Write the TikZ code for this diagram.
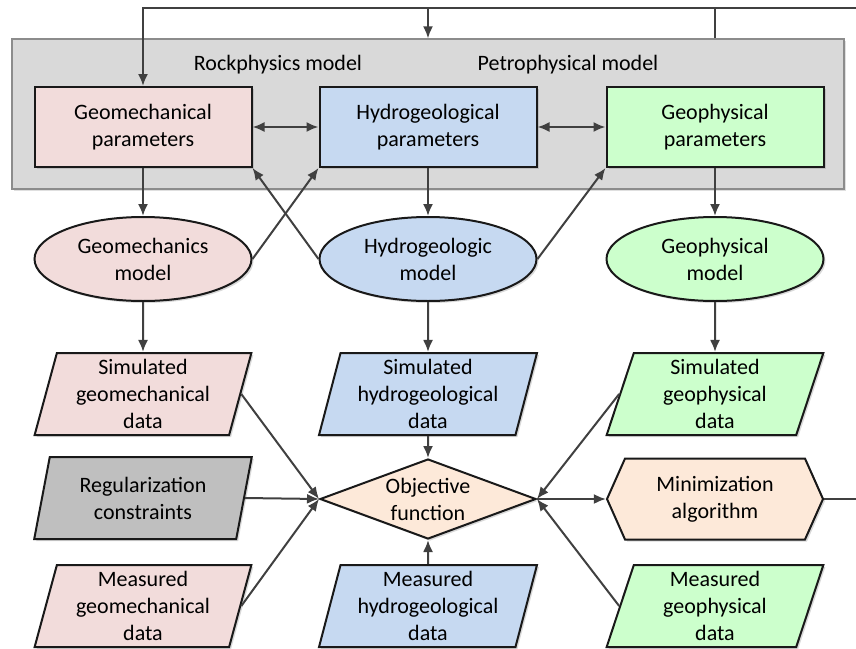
\documentclass[tikz,border=0pt]{standalone}
\usepackage{fontspec}
\setmainfont{Carlito}
\usepackage{xcolor}
\usetikzlibrary{shapes.geometric,shapes.symbols,arrows.meta,shadows,positioning}
\definecolor{mechfill}{HTML}{F2DCDB}
\definecolor{hydrofill}{HTML}{C6D9F1}
\definecolor{physfill}{HTML}{CCFFCC}
\definecolor{regfill}{HTML}{BFBFBF}
\definecolor{objfill}{HTML}{FDE9D9}
\definecolor{bgfill}{HTML}{D9D9D9}
\definecolor{linegray}{HTML}{404040}

\begin{document}
\begin{tikzpicture}[x=0.5pt,y=-0.5pt,>={Latex[length=6pt,width=5pt]},
  every node/.style={font=\fontsize{11}{13.5}\selectfont, align=center},
  box/.style={draw=black!90, line width=1pt, drop shadow={shadow xshift=1pt,shadow yshift=-1pt,opacity=0.3}},
  param/.style={box, rectangle, minimum width=108.5pt, minimum height=40pt},
  model/.style={box, ellipse, minimum width=108.5pt, minimum height=42pt},
  dat/.style={box, trapezium, trapezium left angle=76, trapezium right angle=104, trapezium stretches=true, minimum width=109pt, minimum height=41pt, inner sep=0pt},
  conn/.style={draw=linegray, line width=1pt}]
\useasboundingbox (0,0) rectangle (856,648);

% rock/petro physics block
\node[draw=black!45, line width=0.6pt, fill=bgfill, minimum width=416pt, minimum height=75pt, drop shadow={shadow xshift=1pt,shadow yshift=-1pt,opacity=0.25}] (bg) at (428,114) {};
\node (rock) at (278,65) {Rockphysics model};
\node (petro) at (568,65) {Petrophysical model};

\node[param, fill=mechfill] (gpar) at (143,127) {Geomechanical\\parameters};
\node[param, fill=hydrofill] (hpar) at (428,127) {Hydrogeological\\parameters};
\node[param, fill=physfill] (fpar) at (715,127) {Geophysical\\parameters};

% forward models
\node[model, fill=mechfill] (gmod) at (143,259) {Geomechanics\\model};
\node[model, fill=hydrofill] (hmod) at (428,259) {Hydrogeologic\\model};
\node[model, fill=physfill] (fmod) at (715,259) {Geophysical\\model};

% data
\node[dat, fill=mechfill] (gsim) at (143,394) {Simulated\\geomechanical\\data};
\node[dat, fill=hydrofill] (hsim) at (428,394) {Simulated\\hydrogeological\\data};
\node[dat, fill=physfill] (fsim) at (715,394) {Simulated\\geophysical\\data};
\node[dat, fill=regfill] (reg) at (143,498) {Regularization\\constraints};
\node[dat, fill=mechfill] (gmeas) at (143,606) {Measured\\geomechanical\\data};
\node[dat, fill=hydrofill] (hmeas) at (428,606) {Measured\\hydrogeological\\data};
\node[dat, fill=physfill] (fmeas) at (715,606) {Measured\\geophysical\\data};

% inversion
\node[box, diamond, fill=objfill, aspect=2.7, inner sep=0pt, minimum width=108pt, minimum height=40pt] (obj) at (428,499) {Objective\\function};
\node[box, signal, signal to=west and east, signal pointer angle=132, fill=objfill, minimum width=108pt, minimum height=40.5pt] (mini) at (715,499) {Minimization\\algorithm};

% links between parameters
\draw[conn,<->] (gpar) -- (hpar);
\draw[conn,<->] (hpar) -- (fpar);

\draw[conn,->] (gpar) -- (gmod);
\draw[conn,->] (hpar) -- (hmod);
\draw[conn,->] (fpar) -- (fmod);
\draw[conn,->] (gmod.east) -- (hpar.south west);
\draw[conn,->] (hmod.west) -- (gpar.south east);
\draw[conn,->] (hmod.east) -- (fpar.south west);

\draw[conn,->] (gmod) -- (gsim);
\draw[conn,->] (hmod) -- (hsim);
\draw[conn,->] (fmod) -- (fsim);

% into the objective function
\draw[conn,->] (gsim.east) -- (obj.west);
\draw[conn,->] (reg.east) -- (obj.west);
\draw[conn,->] (gmeas.east) -- (obj.west);
\draw[conn,->] (hsim) -- (obj);
\draw[conn,->] (hmeas) -- (obj);
\draw[conn,->] (fsim.west) -- (obj.east);
\draw[conn,->] (fmeas.west) -- (obj.east);
\draw[conn,->] (obj.east) -- (mini.west);

% feedback loop
\coordinate (top) at (870,8);
\draw[conn,->] (mini.east) -| (top) -| (gpar.north);
\draw[conn,->] (hpar.north |- top) -- (hpar.north |- bg.north);
\draw[conn] (fpar.north |- top) -- (fpar.north |- bg.north);
\end{tikzpicture}
\end{document}
